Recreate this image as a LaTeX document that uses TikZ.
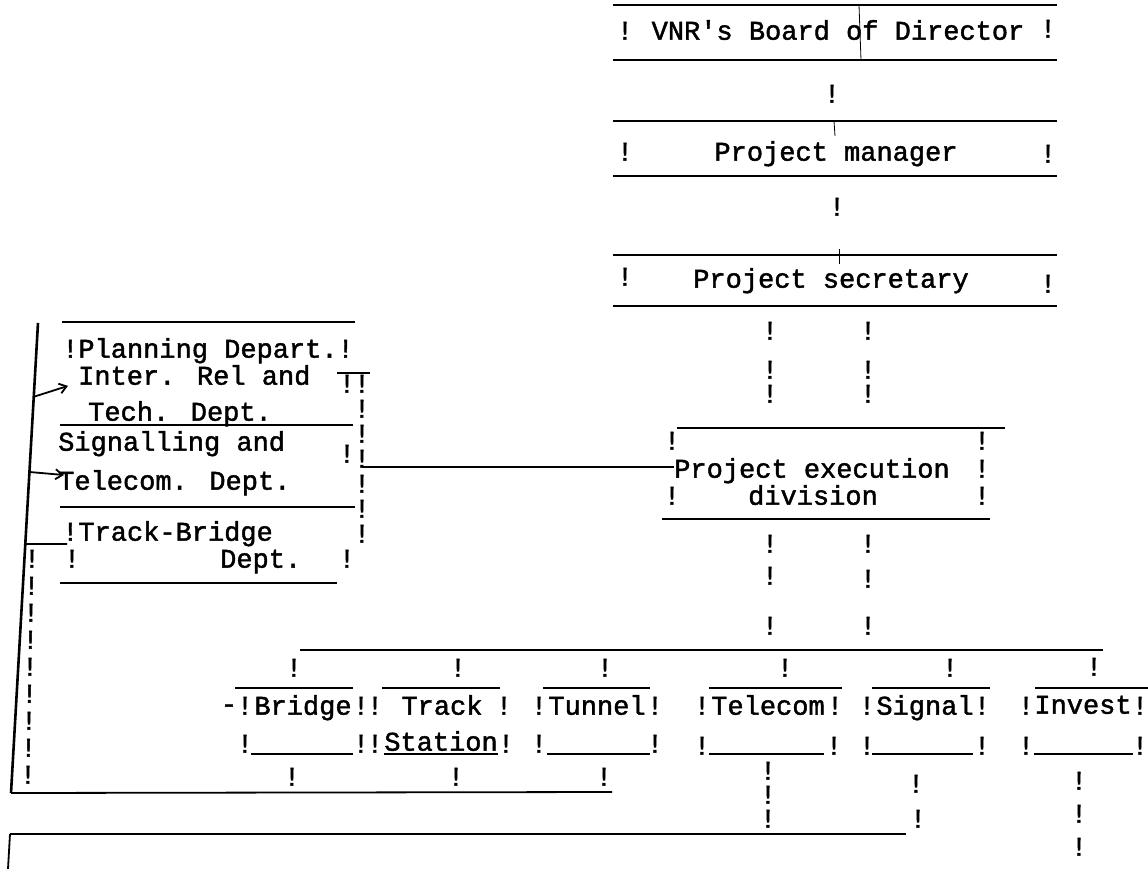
\documentclass[tikz,border=0pt]{standalone}
\usepackage{fontspec}
\newfontfamily\tw{Liberation Mono}[FakeBold=1.6]
\usetikzlibrary{calc,arrows.meta}
\begin{document}
\begin{tikzpicture}[x=1pt,y=-1pt,
  tw/.style={font=\tw\fontsize{27}{30}\selectfont, inner sep=0pt, text height=15.4pt, text depth=0pt},
  tww/.style={tw, anchor=west},
  rule/.style={line width=1.8pt},
  pen/.style={line width=0.8pt},
  barline/.style={line width=2.6pt},
  arr/.style={rule, -{Straight Barb[length=7pt,width=10pt]}},
]
\fill[white] (0,0) rectangle (1148,869);
\useasboundingbox (0,0) rectangle (1148,869);

% ---------- top column of boxes ----------
\foreach \yt/\yb in {5/60, 121/176, 255/306}
  \draw[rule] (613,\yt) -- (1057,\yt) (613,\yb) -- (1057,\yb);
\node[tw] (board) at (838,32) {VNR's Board of Director};
\node[tw] (manager) at (836,153) {Project manager};
\node[tw] (secretary) at (831,280) {Project secretary};
\draw[pen] (859,5) -- (860,33) -- (861,60);
\draw[pen] (834,121) -- (835,136);
\draw[pen] (839,249) -- (839,264);

% execution division
\draw[rule] (677,428) -- (1005,428);
\draw[rule] (662,519) -- (990,519);
\node[tw] (exec1) at (812,470) {Project execution};
\node[tw] (exec2) at (813,497) {division};

% typed bars of the upper part
\foreach \n/\x/\y in {bb1/625/32, bb2/1048/30, bm1/625/153, bm2/1048/155, bs1/625/278, bs2/1048/285,
  c1/832/95, c2/837/208,
  c3/770/332, c4/770/371, c5/770/395, c6/868/332, c7/868/371, c8/868/395,
  be1/672/442, be2/672/497, be3/982/442, be4/982/470, be5/982/497,
  c9/770/545, c10/770/577, c11/770/627, c12/868/545, c13/868/580, c14/868/627}
  \node[tw] (\n) at (\x,\y) {!};

% ---------- bus and lower boxes ----------
\coordinate (busL) at (300,650);
\coordinate (busR) at (1103,650);
\draw[rule] (busL) -- (busR);

% top and bottom rules of the lower boxes
\foreach \a/\b/\c/\d in {235/353/251/353, 382/500/384/498, 543/650/547/650,
  709/842/709/824, 872/990/872/973, 1035/1148/1034/1133}
  \draw[rule] (\a,688) -- (\b,688) (\c,754) -- (\d,754);

\node[tw] (bridge) at (303,707) {Bridge};
\node[tw] (track1) at (442,707) {Track};
\node[tw] (track2) at (441,743) {Station};
\node[tw] (tunnel) at (597,707) {Tunnel};
\node[tw] (telecom) at (768,707) {Telecom};
\node[tw] (signal) at (925,707) {Signal};
\node[tw] (invest) at (1083,706) {Invest};
\node[tw] (dash) at (229,705) {-};

\foreach \n/\x/\y in {
  ab/294/669, at/458/669, au/605/669, ae/785/669, as/950/669, ai/1094/668,
  br1/245/707, br2/245/745, br3/361/707, br4/361/745,
  tr1/375/707, tr2/375/745, tr3/504/707, tr4/506/745,
  tu1/539/707, tu2/539/745, tu3/655/707, tu4/655/745,
  te1/702/707, te2/702/747, te3/835/707, te4/834/747,
  si1/867/707, si2/867/747, si3/982/707, si4/982/747,
  in1/1026/707, in2/1026/747, in3/1140/707, in4/1140/747,
  db/292/778, dt/456/778, du/604/778,
  de1/768/772, de2/768/796, de3/768/820,
  ds1/916/785, ds2/918/820,
  di1/1079/782, di2/1079/815, di3/1079/848}
  \node[tw] (\n) at (\x,\y) {!};

% ---------- left departments ----------
\draw[rule] (62,322) -- (355,322);
\draw[rule] (60,425) -- (353,425);
\draw[rule] (60,507) -- (355,507);
\draw[rule] (60,583) -- (337,583);
\draw[rule] (337,373) -- (370,373);

\node[tww] (plan1) at (62,350) {!Planning Depart.!};
\node[tww] (plan2) at (78,377) {Inter. Rel and};
\node[tww] (plan3) at (88,413) {Tech. Dept.};
\node[tww] (sig1) at (58,443) {Signalling and};
\node[tww] (sig2) at (58,482) {Telecom. Dept.};
\node[tww] (tb1) at (62,533) {!Track-Bridge};
\node[tww] (tb2) at (220,560) {Dept.};

\foreach \n/\x/\y in {lt1/72/560, lt2/347/560, lr1/347/385, lr2/347/455,
  lc1/362/385, lc2/362/410, lc3/362/435, lc4/362/460, lc5/362/485, lc6/362/510, lc7/362/535}
  \node[tw] (\n) at (\x,\y) {!};

% link from departments to execution division
\coordinate (lgR) at (362,467);
\draw[rule] (lgR) -- (exec1.west |- lgR);

% left vertical bar and its branches
\coordinate (bartop) at (38,323);
\coordinate (barbot) at (11,793);
\draw[barline] (bartop) -- (barbot);
\draw[arr] ($(bartop)!0.157!(barbot)$) -- ([xshift=-10pt,yshift=-1pt]plan2.south west);
\draw[arr] ($(bartop)!0.317!(barbot)$) -- ([xshift=6pt,yshift=7pt]sig2.west);
\draw[rule] ($(bartop)!0.47!(barbot)$) -- ([xshift=5pt,yshift=-3pt]tb1.south west);
\foreach \i in {0,...,8}
  \node[tw] (lb\i) at ({32-0.5*\i},{560+27*\i}) {!};

% bottom collecting lines
\coordinate (b2r) at (612,792);
\draw[rule] (barbot) -- (b2r);
\coordinate (b3l) at (10,834);
\coordinate (b3r) at (906,834);
\draw[rule] (b3l) -- (b3r);
\draw[rule] (b3l) -- (8,869);
\end{tikzpicture}
\end{document}
